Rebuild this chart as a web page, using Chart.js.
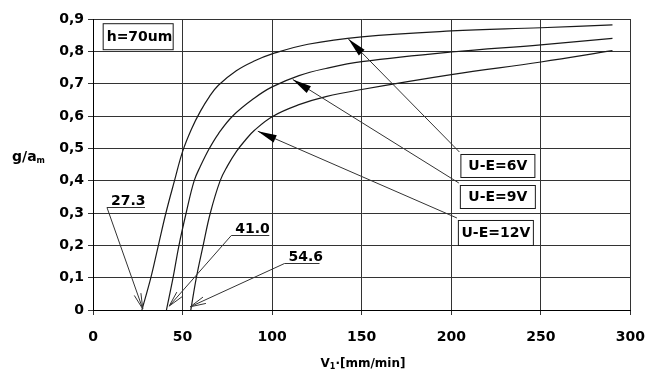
<!DOCTYPE html>
<html>
<head>
<meta charset="utf-8">
<script src="https://cdn.jsdelivr.net/npm/chart.js@4"></script>
<style>
  html, body { margin: 0; padding: 0; background: #fff; }
  #wrap { width: 659px; height: 374px; position: relative; }
</style>
</head>
<body>
<div id="wrap"><canvas id="gap"></canvas></div>
<script>
// feed speed V1 [mm/min] against relative gap g/am, one curve per voltage
const speed6V = [27.3, 32.3, 36.5, 40.7, 45.5, 50, 55, 60, 65, 70, 80, 90, 100, 120, 150, 200, 250, 290];
const gap6V   = [0, 0.1, 0.2, 0.3, 0.4, 0.49, 0.56, 0.615, 0.66, 0.695, 0.74, 0.77, 0.792, 0.822, 0.845, 0.863, 0.873, 0.882];

const speed9V = [41.0, 44.7, 48, 52, 56.5, 60, 65, 70, 78, 90, 100, 115, 130, 150, 200, 250, 290];
const gap9V   = [0, 0.1, 0.2, 0.3, 0.4, 0.445, 0.5, 0.545, 0.6, 0.655, 0.69, 0.725, 0.747, 0.768, 0.798, 0.82, 0.84];

const speed12V = [54.6, 57.7, 61.5, 65.5, 71, 75, 80, 85, 90, 100, 115, 130, 150, 200, 250, 290];
const gap12V   = [0, 0.1, 0.2, 0.3, 0.4, 0.445, 0.49, 0.525, 0.555, 0.598, 0.635, 0.66, 0.682, 0.728, 0.767, 0.802];

// voltage labels and the point on each curve their arrow points at
const voltLabels = ['U-E=6V', 'U-E=9V', 'U-E=12V'];
const voltArrowX = [142.6, 111.5, 92];
const voltArrowY = [0.838, 0.713, 0.553];

// start speeds written under the curves
const startLabels = ['27.3', '41.0', '54.6'];
const startArrowX = [27.8, 42.5, 54.3];
const startArrowY = [0.003, 0.012, 0.01];

const FONT = '"DejaVu Sans", sans-serif';
const INK = '#1a1a1a';

function toPoints(xs, ys) {
    return xs.map((v, i) => ({x: v, y: ys[i]}));
}

// filled arrow head at (tx,ty) pointing away from (fx,fy)
function solidHead(ctx, fx, fy, tx, ty) {
    const a = Math.atan2(ty - fy, tx - fx);
    const len = 19, half = 4;
    const bx = tx - len * Math.cos(a), by = ty - len * Math.sin(a);
    ctx.beginPath();
    ctx.moveTo(tx, ty);
    ctx.lineTo(bx + half * Math.sin(a), by - half * Math.cos(a));
    ctx.lineTo(bx - half * Math.sin(a), by + half * Math.cos(a));
    ctx.closePath();
    ctx.fill();
}

// open "V" arrow head
function openHead(ctx, fx, fy, tx, ty) {
    const a = Math.atan2(ty - fy, tx - fx);
    const len = 16, spread = 0.22;
    ctx.beginPath();
    ctx.moveTo(tx - len * Math.cos(a - spread), ty - len * Math.sin(a - spread));
    ctx.lineTo(tx, ty);
    ctx.lineTo(tx - len * Math.cos(a + spread), ty - len * Math.sin(a + spread));
    ctx.stroke();
}

function labelBox(ctx, left, top, w, h, text) {
    ctx.fillStyle = '#fff';
    ctx.fillRect(left, top, w, h);
    ctx.strokeStyle = INK;
    ctx.lineWidth = 1;
    ctx.strokeRect(left + 0.5, top + 0.5, w, h);
    ctx.fillStyle = '#000';
    ctx.font = 'bold 14px ' + FONT;
    ctx.textAlign = 'center';
    ctx.textBaseline = 'middle';
    ctx.fillText(text, left + w / 2 + 0.5, top + h / 2 + 1);
}

// arrows, boxes and axis titles drawn over the plot
const notesPlugin = {
    id: 'notes',
    afterDraw(chart) {
        const ctx = chart.ctx;
        const xs = chart.scales.x, ys = chart.scales.y;
        ctx.save();

        // h box in the upper left corner, text runs into its right edge
        const hx = xs.getPixelForValue(5.4), hy = ys.getPixelForValue(0.887);
        ctx.fillStyle = '#fff';
        ctx.fillRect(hx, hy, 70, 26);
        ctx.strokeStyle = INK;
        ctx.lineWidth = 1;
        ctx.strokeRect(hx + 0.5, hy + 0.5, 70, 26);
        ctx.save();
        ctx.beginPath();
        ctx.rect(hx, hy, 70, 26);
        ctx.clip();
        ctx.fillStyle = '#000';
        ctx.font = 'bold 14px ' + FONT;
        ctx.textAlign = 'left';
        ctx.textBaseline = 'middle';
        ctx.fillText('h=70um', hx + 4, hy + 14);
        ctx.restore();

        // voltage boxes with their arrows
        const boxX = [205.1, 204.8, 203.7];
        const boxY = [0.4825, 0.3866, 0.2784];
        const boxW = [74, 75, 75];
        const boxH = [23, 23, 25];
        for (let i = 0; i < voltLabels.length; i++) {
            const bx = xs.getPixelForValue(boxX[i]), by = ys.getPixelForValue(boxY[i]);
            const tx = xs.getPixelForValue(voltArrowX[i]), ty = ys.getPixelForValue(voltArrowY[i]);
            ctx.strokeStyle = '#333';
            ctx.lineWidth = 1;
            ctx.beginPath();
            ctx.moveTo(bx - 1, by - 2);
            ctx.lineTo(tx, ty);
            ctx.stroke();
            ctx.fillStyle = '#000';
            solidHead(ctx, bx, by, tx, ty);
            labelBox(ctx, bx, by, boxW[i], boxH[i], voltLabels[i]);
        }

        // underlined start speeds with open arrows down to the x axis
        const lineX = [7.8, 77.2, 106.9];
        const lineY = [0.318, 0.232, 0.1444];
        const lineW = [38, 38, 35];
        for (let i = 0; i < startLabels.length; i++) {
            const lx = xs.getPixelForValue(lineX[i]), ly = Math.round(ys.getPixelForValue(lineY[i])) + 0.5;
            const tx = xs.getPixelForValue(startArrowX[i]), ty = ys.getPixelForValue(startArrowY[i]);
            ctx.strokeStyle = '#333';
            ctx.lineWidth = 1;
            ctx.beginPath();
            ctx.moveTo(lx, ly);
            ctx.lineTo(lx + lineW[i], ly);
            ctx.moveTo(lx, ly);
            ctx.lineTo(tx, ty);
            ctx.stroke();
            openHead(ctx, lx, ly, tx, ty);
            ctx.fillStyle = '#000';
            ctx.font = 'bold 14px ' + FONT;
            ctx.textAlign = 'left';
            ctx.textBaseline = 'alphabetic';
            ctx.fillText(startLabels[i], lx + 4, ly - 3);
        }

        // y axis title g/a with subscript m
        ctx.fillStyle = '#000';
        ctx.textAlign = 'left';
        ctx.textBaseline = 'alphabetic';
        ctx.font = 'bold 14px ' + FONT;
        ctx.fillText('g/a', 12, 161);
        const gw = ctx.measureText('g/a').width;
        ctx.font = 'bold 8px ' + FONT;
        ctx.fillText('m', 12 + gw, 163);

        // x axis title V1·[mm/min], centred under the plot
        ctx.font = 'bold 12px ' + FONT;
        const wV = ctx.measureText('V').width;
        const wRest = ctx.measureText('·[mm/min]').width;
        ctx.font = 'bold 8px ' + FONT;
        const wSub = ctx.measureText('1').width;
        let cx = 363 - (wV + wSub + wRest) / 2;
        ctx.font = 'bold 12px ' + FONT;
        ctx.fillText('V', cx, 367);
        cx += wV;
        ctx.font = 'bold 8px ' + FONT;
        ctx.fillText('1', cx, 369);
        cx += wSub;
        ctx.font = 'bold 12px ' + FONT;
        ctx.fillText('·[mm/min]', cx, 367);

        ctx.restore();
    }
};

const curveStyle = {
    showLine: true,
    borderColor: INK,
    borderWidth: 1.2,
    pointRadius: 0,
    fill: false,
    tension: 0.4
};

new Chart(document.getElementById('gap'), {
    type: 'scatter',
    data: {
        datasets: [
            Object.assign({label: voltLabels[0], data: toPoints(speed6V, gap6V)}, curveStyle),
            Object.assign({label: voltLabels[1], data: toPoints(speed9V, gap9V)}, curveStyle),
            Object.assign({label: voltLabels[2], data: toPoints(speed12V, gap12V)}, curveStyle)
        ]
    },
    options: {
        responsive: true,
        maintainAspectRatio: false,
        devicePixelRatio: 1,
        animation: false,
        layout: {padding: {left: 0, right: 27, top: 19, bottom: 0}},
        plugins: {
            legend: {display: false},
            tooltip: {enabled: false}
        },
        scales: {
            x: {
                type: 'linear',
                min: 0,
                max: 300,
                afterFit: (s) => { s.height = 64; },
                ticks: {
                    stepSize: 50,
                    color: '#000',
                    padding: 14,
                    font: {family: FONT, weight: 'bold', size: 14}
                },
                grid: {color: '#333', lineWidth: 1, tickLength: 5},
                border: {color: '#000', width: 1}
            },
            y: {
                min: 0,
                max: 0.9,
                afterFit: (s) => { s.width = 93; },
                ticks: {
                    stepSize: 0.1,
                    color: '#000',
                    padding: 4,
                    font: {family: FONT, weight: 'bold', size: 14},
                    callback: (v) => v === 0 ? '0' : v.toFixed(1).replace('.', ',')
                },
                grid: {color: '#333', lineWidth: 1, tickLength: 5},
                border: {color: '#000', width: 1}
            }
        }
    },
    plugins: [notesPlugin]
});
</script>
</body>
</html>
